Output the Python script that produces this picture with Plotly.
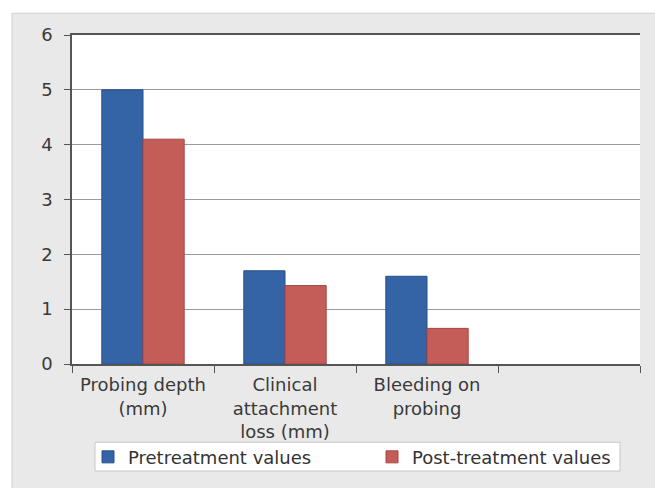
import plotly.graph_objects as go

categories = ["Probing depth<br>(mm)", "Clinical<br>attachment<br>loss (mm)", "Bleeding on<br>probing", " "]
pre_values = [5.0, 1.7, 1.6, None]
post_values = [4.1, 1.43, 0.65, None]
y_ticks = [0, 1, 2, 3, 4, 5, 6]

W, H = 655, 488
L, R, T, B = 72, 15, 35, 121
pw, ph = W - L - R, H - T - B

def px_x(p):
    return (p - L) / pw

def px_y(p):
    return (H - B - p) / ph

FONT = "DejaVu Sans, Verdana, sans-serif"

fig = go.Figure()
fig.add_bar(x=categories, y=pre_values, name="Pretreatment values", legend="legend",
            marker=dict(color="#3463a6", line=dict(color="#24508c", width=1)))
fig.add_bar(x=categories, y=post_values, name="Post-treatment values", legend="legend2",
            marker=dict(color="#c45c58", line=dict(color="#a84542", width=1)))

legend_common = dict(orientation="h", xanchor="left", yanchor="middle",
                     bgcolor="rgba(0,0,0,0)", borderwidth=0,
                     font=dict(family=FONT, size=18, color="#333"), itemwidth=30)

fig.update_layout(
    width=W, height=H,
    paper_bgcolor="#e9e9e9", plot_bgcolor="white",
    margin=dict(l=L, r=R, t=T, b=B),
    barmode="group", bargap=0.42, bargroupgap=0,
    font=dict(family=FONT, size=18, color="#3a3a3a"),
    showlegend=True,
    legend=dict(x=px_x(88), y=px_y(461), **legend_common),
    legend2=dict(x=px_x(372), y=px_y(461), **legend_common),
    shapes=[
        # white page strips outside the grey panel
        dict(type="rect", xref="paper", yref="paper",
             x0=px_x(-5), x1=px_x(W + 5), y0=px_y(13), y1=px_y(-5),
             line=dict(width=0), fillcolor="white"),
        dict(type="rect", xref="paper", yref="paper",
             x0=px_x(-5), x1=px_x(12), y0=px_y(H + 5), y1=px_y(-5),
             line=dict(width=0), fillcolor="white"),
        # grey panel edge
        dict(type="line", xref="paper", yref="paper",
             x0=px_x(12), x1=px_x(W + 5), y0=px_y(13), y1=px_y(13),
             line=dict(width=1, color="#d0d0d0")),
        dict(type="line", xref="paper", yref="paper",
             x0=px_x(12), x1=px_x(12), y0=px_y(13), y1=px_y(H + 5),
             line=dict(width=1, color="#d0d0d0")),
        # legend box
        dict(type="rect", xref="paper", yref="paper",
             x0=px_x(95), x1=px_x(620), y0=px_y(475), y1=px_y(446),
             line=dict(width=1, color="#c8c8c8"), fillcolor="white"),
    ],
)
fig.update_xaxes(type="category", tickson="boundaries", ticks="outside", ticklen=7,
                 tickcolor="#555", showline=True, linecolor="#555", linewidth=1.5,
                 mirror=True, showgrid=False, ticklabelstandoff=4)
fig.update_yaxes(range=[0, 6], tickvals=y_ticks, ticks="outside", ticklen=6,
                 tickcolor="#555", showline=True, linecolor="#555", linewidth=1.5,
                 showgrid=True, gridcolor="#9a9a9a", gridwidth=1, zeroline=False,
                 ticklabelstandoff=8)
fig.write_html("out.html", config={"displayModeBar": False},
               post_script="document.body.style.margin='0';")
